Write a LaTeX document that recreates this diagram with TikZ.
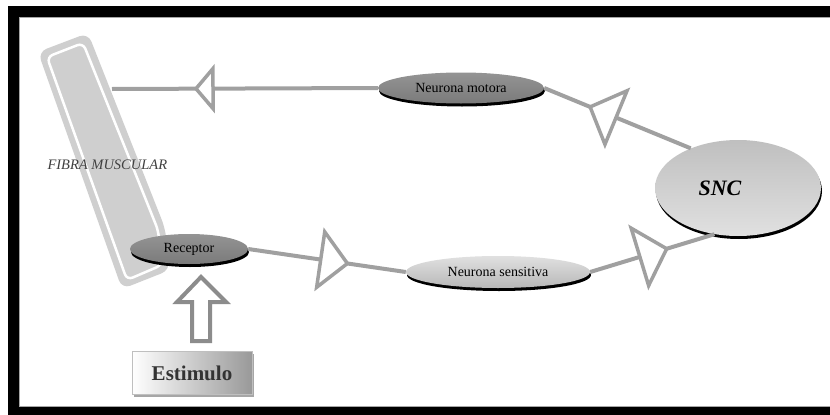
\documentclass[tikz,border=0pt]{standalone}
\usepackage{fontspec}
\setmainfont{Liberation Serif}
\usetikzlibrary{shapes.geometric,shadows,positioning}

\definecolor{nervegray}{RGB}{160,160,160}
\definecolor{fibregray}{RGB}{207,207,207}

\tikzset{
  pics/synapse/.style 2 args={code={
    \draw[syn] (0,-#2) -- (#1,0) -- (0,#2) -- cycle;}}
}

\begin{document}
\begin{tikzpicture}[x=1pt,y=-1pt,
  nerve/.style={draw=nervegray,line width=4pt},
  syn/.style={draw=nervegray,line width=3.5pt,fill=white,line join=miter},
  cell/.style={ellipse,inner sep=0pt,font=\fontsize{14}{16}\selectfont,
    drop shadow={shadow xshift=1pt,shadow yshift=-3pt,fill=black,opacity=1}},
  darkcell/.style={cell,top color=black!42,middle color=black!15,bottom color=black!52},
  lightcell/.style={cell,top color=black!12,middle color=black!3,bottom color=black!28},
  snccell/.style={cell,top color=black!25,middle color=black!38,bottom color=black!12},
  stimbox/.style={rectangle,draw=black!25,left color=white,right color=black!40,
    text=black!80,font=\bfseries\fontsize{21}{24}\selectfont,
    drop shadow={shadow xshift=2pt,shadow yshift=-2pt,fill=black!35,opacity=1}}]

\useasboundingbox (0,0) rectangle (830,415);
% frame
\fill[white] (0,0) rectangle (830,415);
\fill[black] (8,6) rectangle (830,415);
\fill[white] (19,17) rectangle (830,406);
\draw[black!35,line width=0.8pt] (830,17) -- (19,17) -- (19,406) -- (830,406);

% fibra muscular
\fill[fibregray,rounded corners=9pt] (38,52) -- (88,33) -- (165,228) -- (170,270) -- (122,289) -- cycle;
\draw[white,line width=2.5pt,rounded corners=6pt] (47,57) -- (83,43) -- (158,230) -- (162,265) -- (127,280) -- cycle;
\node[anchor=west,text=black!75,font=\itshape\fontsize{14.5}{16}\selectfont] (fibra) at (44,165) {FIBRA MUSCULAR};
\coordinate (fibre) at (112,89);

% celulas
\node[darkcell,minimum width=166pt,minimum height=31pt] (motora) at (461,88) {Neurona motora};
\node[darkcell,minimum width=118pt,minimum height=30pt] (receptor) at (189,249) {Receptor};
\node[lightcell,minimum width=184pt,minimum height=32pt] (sensitiva) at (498,272) {Neurona sensitiva};
\node[snccell,minimum width=166pt,minimum height=96pt,
  font=\bfseries\itshape\fontsize{22}{24}\selectfont] (snc) at (738,188) {SNC\hspace*{36pt}};
\node[stimbox,minimum width=120pt,minimum height=43pt] (estimulo) at (192,373) {Estimulo};

% vias
\foreach \a/\b/\p/\d/\w in {snc.140/motora.east/0.51/28/29,
    motora.west/fibre/0.62/17/20,
    receptor.east/sensitiva.west/0.46/27/28,
    sensitiva.east/snc.243/0.40/28/30}{
  \draw[nerve] (\a) -- (\b);
  \path (\a) -- pic[pos=\p,sloped,allow upside down]{synapse={\d}{\w}} (\b);
}

% estimulo
\draw[black!45,line width=4pt,line join=miter] (192,341) -- (192,302) -- (177,302) -- (201,277)
  -- (226,302) -- (210,302) -- (210,341) -- cycle;
\end{tikzpicture}
\end{document}
